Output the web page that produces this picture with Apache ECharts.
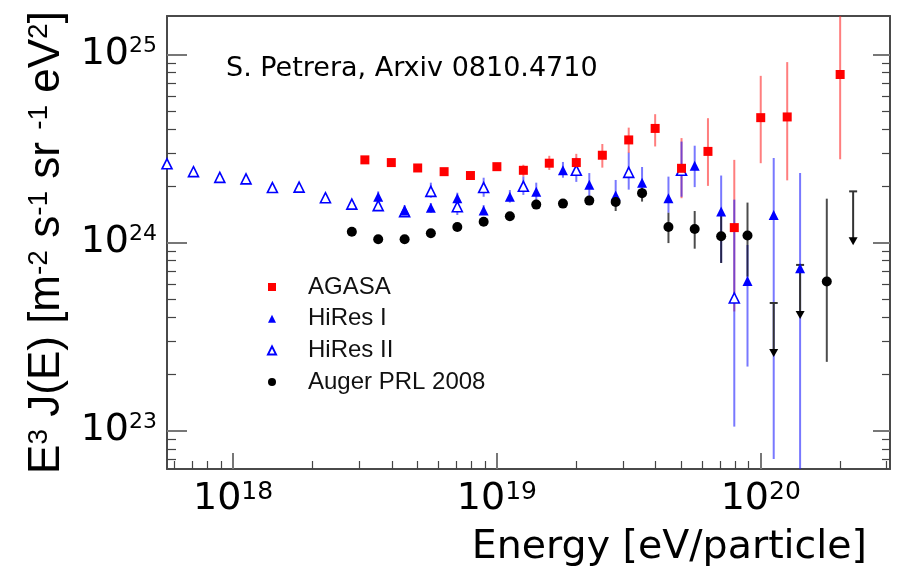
<!DOCTYPE html>
<html><head><meta charset="utf-8">
<script src="https://cdn.jsdelivr.net/npm/echarts@6/dist/echarts.min.js"></script>
<style>html,body{margin:0;padding:0;background:#fff}#c{width:897px;height:568px}</style>
</head><body><div id="c"></div>
<script>
// ---------- data (energy in eV, flux E^3 J(E) in m^-2 s^-1 sr^-1 eV^2) ----------
const agasaE  = [3.16e18,3.98e18,5.01e18,6.31e18,7.94e18,1.00e19,1.26e19,1.58e19,2.00e19,2.51e19,3.16e19,3.98e19,5.01e19,6.31e19,7.94e19,1.00e20,1.26e20,2.00e20];
const agasaJ  = [2.75e24,2.66e24,2.49e24,2.38e24,2.27e24,2.53e24,2.42e24,2.64e24,2.66e24,2.91e24,3.51e24,4.04e24,2.48e24,3.05e24,1.20e24,4.61e24,4.65e24,7.82e24];
const agasaLo = [2.64e24,2.56e24,2.39e24,2.28e24,2.17e24,2.42e24,2.24e24,2.43e24,2.42e24,2.50e24,2.99e24,3.24e24,1.72e24,2.00e24,4.30e23,2.64e24,2.14e24,2.77e24];
const agasaHi = [2.86e24,2.77e24,2.59e24,2.48e24,2.37e24,2.65e24,2.59e24,2.89e24,2.96e24,3.34e24,4.08e24,4.81e24,3.59e24,4.58e24,2.75e24,7.69e24,9.10e24,2.2e25];

const hires1E  = [3.55e18,4.47e18,5.62e18,7.08e18,8.91e18,1.12e19,1.41e19,1.78e19,2.24e19,2.82e19,3.55e19,4.47e19,5.62e19,7.08e19,8.91e19,1.12e20,1.41e20];
const hires1J  = [1.75e24,1.48e24,1.53e24,1.72e24,1.48e24,1.75e24,1.86e24,2.42e24,2.03e24,1.78e24,2.08e24,1.72e24,2.56e24,1.46e24,6.25e23,1.40e24,7.3e23];
const hires1Lo = [1.63e24,1.37e24,1.44e24,1.59e24,1.40e24,1.63e24,1.63e24,2.21e24,1.75e24,1.55e24,1.84e24,1.44e24,1.97e24,7.80e23,2.19e23,7.06e22,4.0e22];
const hires1Hi = [1.87e24,1.58e24,1.62e24,1.84e24,1.58e24,1.90e24,2.08e24,2.68e24,2.34e24,2.15e24,2.52e24,2.24e24,3.27e24,2.27e24,9.7e23,2.81e24,2.34e24];

const hires2E  = [5.62e17,7.08e17,8.91e17,1.12e18,1.41e18,1.78e18,2.24e18,2.82e18,3.55e18,4.47e18,5.62e18,7.08e18,8.91e18,1.26e19,2.00e19,3.16e19,5.01e19,7.94e19];
const hires2J  = [2.62e24,2.38e24,2.22e24,2.18e24,1.96e24,1.97e24,1.73e24,1.60e24,1.57e24,1.46e24,1.87e24,1.55e24,1.96e24,1.99e24,2.42e24,2.36e24,2.42e24,5.07e23];
const hires2Lo = [2.52e24,2.29e24,2.13e24,2.09e24,1.88e24,1.89e24,1.66e24,1.54e24,1.51e24,1.40e24,1.73e24,1.40e24,1.75e24,1.79e24,2.10e24,1.91e24,1.75e24,1.05e23];
const hires2Hi = [2.72e24,2.47e24,2.31e24,2.27e24,2.04e24,2.05e24,1.80e24,1.66e24,1.63e24,1.52e24,2.08e24,1.69e24,2.21e24,2.24e24,2.82e24,3.00e24,3.44e24,1.69e24];

const augerE  = [2.82e18,3.55e18,4.47e18,5.62e18,7.08e18,8.91e18,1.12e19,1.41e19,1.78e19,2.24e19,2.82e19,3.55e19,4.47e19,5.62e19,7.08e19,8.91e19,1.78e20];
const augerJ  = [1.14e24,1.04e24,1.04e24,1.12e24,1.21e24,1.29e24,1.38e24,1.59e24,1.61e24,1.67e24,1.64e24,1.83e24,1.21e24,1.18e24,1.08e24,1.09e24,6.2e23];
const augerLo = [1.11e24,1.01e24,1.01e24,1.09e24,1.17e24,1.25e24,1.34e24,1.54e24,1.56e24,1.60e24,1.47e24,1.65e24,9.93e23,9.27e23,7.78e23,6.58e23,2.32e23];
const augerHi = [1.17e24,1.07e24,1.07e24,1.15e24,1.25e24,1.33e24,1.42e24,1.64e24,1.66e24,1.74e24,1.75e24,1.95e24,1.44e24,1.47e24,1.40e24,1.63e24,1.71e24];
const augerLimE = [1.12e20,1.41e20,2.24e20];
const augerLimJ = [4.77e23,7.6e23,1.87e24];

const xMajor = [1e18,1e19,1e20];
const xMinor = [6e17,7e17,8e17,9e17,2e18,3e18,4e18,5e18,6e18,7e18,8e18,9e18,2e19,3e19,4e19,5e19,6e19,7e19,8e19,9e19,2e20,3e20];
const yMajor = [1e23,1e24,1e25];
const yMinor = [7e22,8e22,9e22,2e23,3e23,4e23,5e23,6e23,7e23,8e23,9e23,2e24,3e24,4e24,5e24,6e24,7e24,8e24,9e24];

const X_MIN = 5.62e17, X_MAX = 3.09e20, Y_MIN = 6.25e22, Y_MAX = 1.6e25;

// ---------- build ----------
const zip = (a,b) => a.map((v,i)=>[v,b[i]]);
const zip3 = (a,b,c) => a.map((v,i)=>[v,b[i],c[i]]);
const TICKFONT = 'DejaVu Sans';

function expLabel(v){ const e = Math.round(Math.log10(v)); return '{b|10}{s|' + e + '}'; }

function errSeries(name, data, color){
  return {
    type:'custom', name:name, clip:true, z:1, silent:true,
    data:data,
    encode:{x:0, y:[1,2]},
    renderItem:function(params, api){
      const x = api.value(0);
      const p1 = api.coord([x, api.value(1)]);
      const p2 = api.coord([x, api.value(2)]);
      return {type:'line', shape:{x1:p1[0],y1:p1[1],x2:p2[0],y2:p2[1]}, style:{stroke:color, lineWidth:2}};
    }
  };
}

const ARROW = 54;
const limitSeries = {
  type:'custom', name:'Auger limits', clip:true, z:3, silent:true,
  data: zip(augerLimE, augerLimJ),
  renderItem:function(params, api){
    const p = api.coord([api.value(0), api.value(1)]);
    const x = p[0], y = p[1];
    return {type:'group', children:[
      {type:'line', shape:{x1:x,y1:y,x2:x,y2:y+ARROW-6}, style:{stroke:'#333', lineWidth:2}},
      {type:'line', shape:{x1:x-4,y1:y,x2:x+4,y2:y}, style:{stroke:'#333', lineWidth:2}},
      {type:'polygon', shape:{points:[[x-4.5,y+ARROW-8],[x+4.5,y+ARROW-8],[x,y+ARROW]]}, style:{fill:'#000'}}
    ]};
  }
};

function logAxis(extra){
  return Object.assign({type:'log', logBase:10, splitLine:{show:false}, minorTick:{show:false}, minorSplitLine:{show:false}}, extra);
}

const labelRichX = {
  b:{fontFamily:TICKFONT, fontSize:38, lineHeight:38, color:'#000', verticalAlign:'bottom'},
  s:{fontFamily:TICKFONT, fontSize:25, lineHeight:25, color:'#000', verticalAlign:'top'}
};
const labelRichY = {
  b:{fontFamily:TICKFONT, fontSize:38, lineHeight:38, color:'#000', verticalAlign:'bottom'},
  s:{fontFamily:TICKFONT, fontSize:22, lineHeight:22, color:'#000', verticalAlign:'top'}
};

const AXC = '#4a4a4a';
const xBase = {min:X_MIN, max:X_MAX};
const yBase = {min:Y_MIN, max:Y_MAX};

const option = {
  animation:false,
  backgroundColor:'#fff',
  title:{
    text:'S. Petrera, Arxiv 0810.4710', left:226, top:55, padding:0,
    textStyle:{fontFamily:'DejaVu Sans', fontSize:27, fontWeight:'normal', color:'#000'}
  },
  legend:{
    orient:'vertical', left:267, top:275, padding:0, itemWidth:8, itemHeight:8, itemGap:7.7,
    selectedMode:false,
    textStyle:{fontFamily:'Liberation Sans', fontSize:24, color:'#111', padding:[0,0,0,27]},
    data:[{name:'AGASA', icon:'rect'},{name:'HiRes I', icon:'triangle'},{name:'HiRes II', icon:'triangle'},{name:'Auger PRL 2008', icon:'circle'}]
  },
  grid:{left:167, right:7, top:16, bottom:99, containLabel:false, outerBoundsMode:'none'},
  xAxis:[
    logAxis(Object.assign({position:'bottom',
      axisLine:{show:true, lineStyle:{color:AXC, width:2}},
      axisTick:{show:true, inside:true, length:16, customValues:xMajor, lineStyle:{color:'#777', width:2}},
      axisLabel:{show:true, customValues:xMajor, formatter:expLabel, margin:11, rich:labelRichX},
      name:'Energy [eV/particle]', nameLocation:'end', nameGap:-23,
      nameTextStyle:{fontFamily:'DejaVu Sans', fontSize:39.5, color:'#000', align:'right', verticalAlign:'top', padding:[59,0,0,0]}
    }, xBase)),
    logAxis(Object.assign({position:'bottom',
      axisLine:{show:false},
      axisTick:{show:true, inside:true, length:8, customValues:xMinor, lineStyle:{color:'#444', width:1.2}},
      axisLabel:{show:false}
    }, xBase)),
    logAxis(Object.assign({position:'top',
      axisLine:{show:true, lineStyle:{color:AXC, width:2}},
      axisTick:{show:false}, axisLabel:{show:false}
    }, xBase))
  ],
  yAxis:[
    logAxis(Object.assign({position:'left',
      axisLine:{show:true, lineStyle:{color:AXC, width:2}},
      axisTick:{show:true, inside:true, length:20, customValues:yMajor, lineStyle:{color:'#777', width:2}},
      axisLabel:{show:true, customValues:yMajor, formatter:expLabel, margin:10, rich:labelRichY},
      name:'{m|E}{s|3}{m| J(E) [m}{s|-2}{m| s}{s|-1}{m| sr }{s|-1}{m| eV}{s|2}{m|]}',
      nameLocation:'middle', nameRotate:90, nameGap:98,
      nameTextStyle:{verticalAlign:'bottom', align:'center', rich:{
        m:{fontFamily:'Liberation Sans', fontSize:44, lineHeight:44, color:'#000', verticalAlign:'bottom'},
        s:{fontFamily:'Liberation Sans', fontSize:28, lineHeight:28, color:'#000', verticalAlign:'top'}
      }}
    }, yBase)),
    logAxis(Object.assign({position:'left',
      axisLine:{show:false},
      axisTick:{show:true, inside:true, length:9, customValues:yMinor, lineStyle:{color:'#444', width:1.2}},
      axisLabel:{show:false}
    }, yBase)),
    logAxis(Object.assign({position:'right',
      axisLine:{show:true, lineStyle:{color:AXC, width:2}},
      axisTick:{show:true, inside:true, length:17, customValues:yMajor, lineStyle:{color:'#777', width:2}},
      axisLabel:{show:false}
    }, yBase)),
    logAxis(Object.assign({position:'right',
      axisLine:{show:false},
      axisTick:{show:true, inside:true, length:8, customValues:yMinor, lineStyle:{color:'#444', width:1.2}},
      axisLabel:{show:false}
    }, yBase))
  ],
  series:[
    errSeries('AGASA err', zip3(agasaE, agasaLo, agasaHi), 'rgba(255,40,40,0.6)'),
    errSeries('HiRes I err', zip3(hires1E, hires1Lo, hires1Hi), 'rgba(30,30,255,0.6)'),
    errSeries('HiRes II err', zip3(hires2E, hires2Lo, hires2Hi), 'rgba(30,30,255,0.6)'),
    errSeries('Auger err', zip3(augerE, augerLo, augerHi), 'rgba(0,0,0,0.7)'),
    limitSeries,
    {type:'scatter', name:'HiRes II', data:zip(hires2E, hires2J), symbol:'triangle', symbolSize:10, clip:false, z:4,
      itemStyle:{color:'#ffffff', borderColor:'#0000ff', borderWidth:1.6, opacity:1}},
    {type:'scatter', name:'HiRes I', data:zip(hires1E, hires1J), symbol:'triangle', symbolSize:10, clip:false, z:4,
      itemStyle:{color:'#0000ff', opacity:1}},
    {type:'scatter', name:'AGASA', data:zip(agasaE, agasaJ), symbol:'rect', symbolSize:9, clip:false, z:5,
      itemStyle:{color:'#ff0000', opacity:1}},
    {type:'scatter', name:'Auger PRL 2008', data:zip(augerE, augerJ), symbol:'circle', symbolSize:10, clip:false, z:5,
      itemStyle:{color:'#000000', opacity:1}}
  ]
};
const chart = echarts.init(document.getElementById('c'), null, {renderer:'canvas'});
chart.setOption(option);
</script></body></html>
